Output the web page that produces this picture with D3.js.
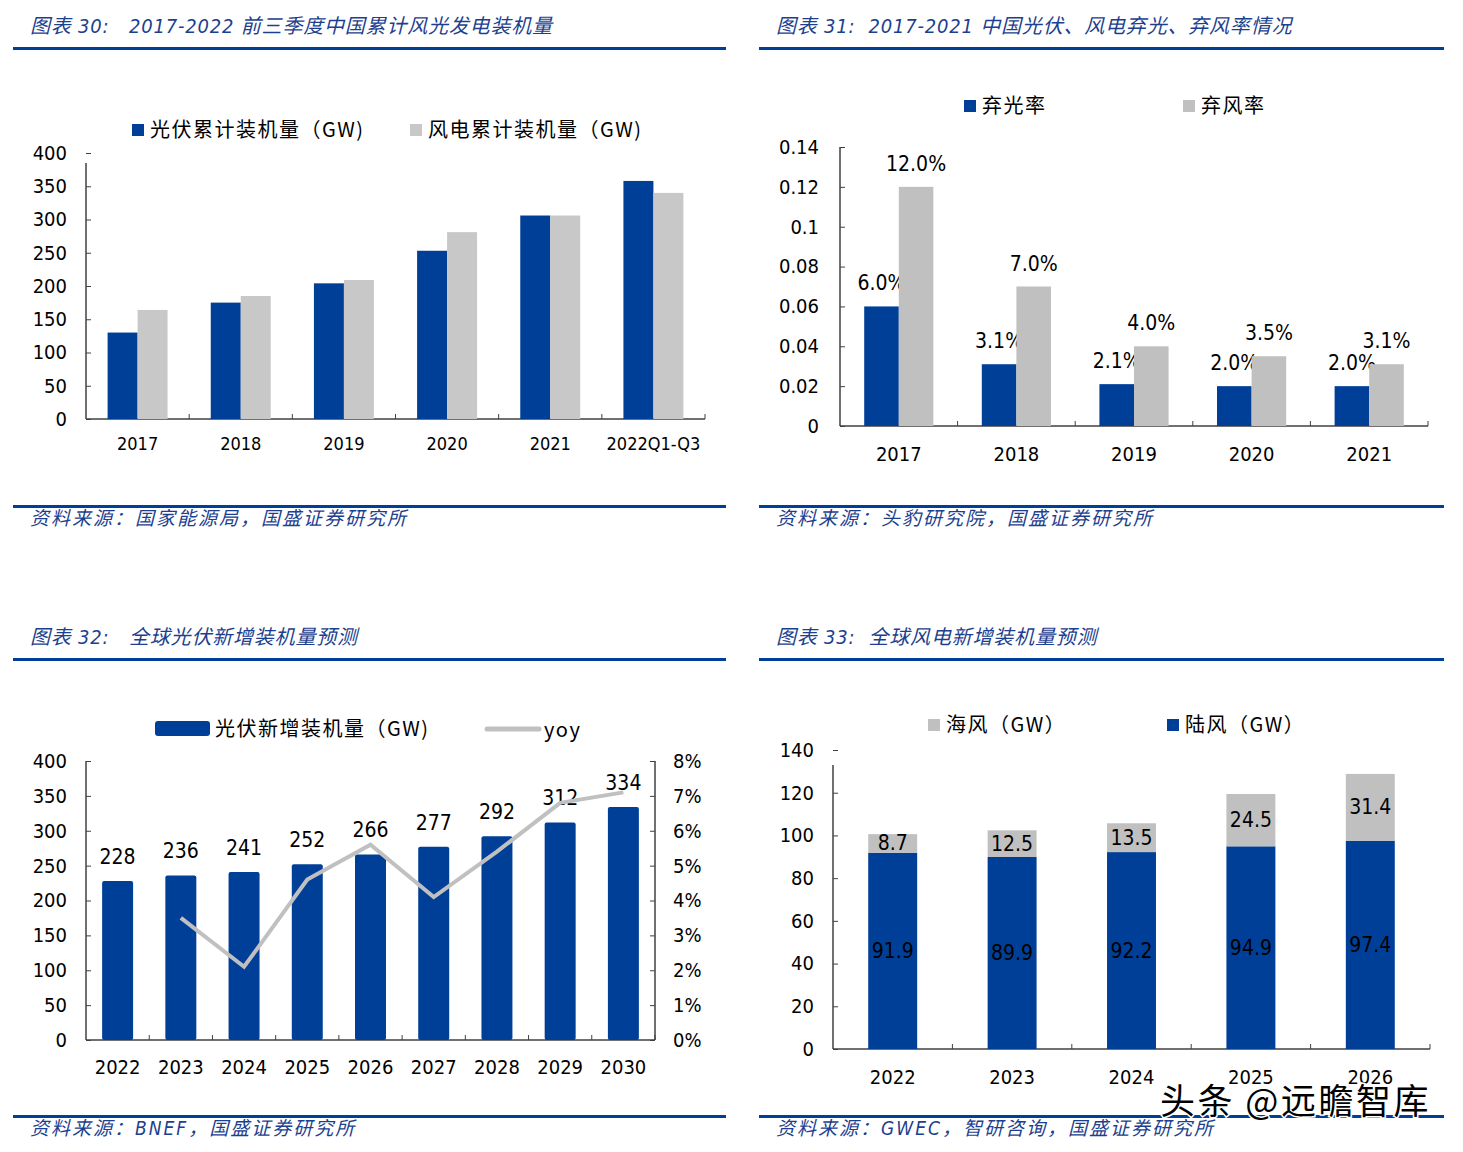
<!DOCTYPE html>
<html>
<head>
<meta charset="utf-8">
<script src="https://cdn.jsdelivr.net/npm/d3@7/dist/d3.min.js"></script>
<style>
  body { margin: 0; background: #fff; }
  svg text { font-family: "DejaVu Sans Condensed", "Noto Sans CJK SC", sans-serif; fill: #000; }
  .title, .source { font-style: italic; fill: #1d3f8f; white-space: pre; }
  .title { font-size: 20px; letter-spacing: 0.8px; }
  .source { font-size: 19px; letter-spacing: 2px; }
  .legend { font-family: "Noto Sans CJK SC", sans-serif; font-size: 20px; letter-spacing: 1.5px; }
</style>
</head>
<body>
<svg id="chart" width="1463" height="1152"></svg>
<script>
// ---- data ----
const capYears = ['2017', '2018', '2019', '2020', '2021', '2022Q1-Q3'];
const pvCum = [130, 175, 204, 253, 306, 358];
const windCum = [164, 185, 209, 281, 306, 340];

const curtYears = ['2017', '2018', '2019', '2020', '2021'];
const pvCurt = [0.060, 0.031, 0.021, 0.020, 0.020];
const windCurt = [0.120, 0.070, 0.040, 0.035, 0.031];

const pvYears = ['2022', '2023', '2024', '2025', '2026', '2027', '2028', '2029', '2030'];
const pvNew = [228, 236, 241, 252, 266, 277, 292, 312, 334];
const pvYoy = [null, 0.035, 0.021, 0.046, 0.056, 0.041, 0.054, 0.068, 0.071];

const windYears = ['2022', '2023', '2024', '2025', '2026'];
const onshore = [91.9, 89.9, 92.2, 94.9, 97.4];
const offshore = [8.7, 12.5, 13.5, 24.5, 31.4];

const BLUE = '#003f98';
const GRAY = '#c0c0c0';
const AXIS = '#404040';

const svg = d3.select('#chart');

// header + footer of one report panel
function panel(x0, x1, top, bottom, title, source) {
  svg.append('text').attr('class', 'title').attr('x', x0 + 17).attr('y', top + 14).text(title);
  svg.append('rect').attr('x', x0).attr('y', top + 28).attr('width', x1 - x0).attr('height', 3).attr('fill', BLUE);
  svg.append('rect').attr('x', x0).attr('y', bottom).attr('width', x1 - x0).attr('height', 3).attr('fill', BLUE);
  svg.append('text').attr('class', 'source').attr('x', x0 + 17).attr('y', bottom + 20).text(source);
}

function legendBox(x, y, color, label) {
  svg.append('rect').attr('x', x).attr('y', y - 6).attr('width', 12).attr('height', 12).attr('fill', color);
  svg.append('text').attr('class', 'legend').attr('x', x + 18).attr('y', y + 7).text(label);
}

function leftAxis(scale, x, values, fmt, pad, fs) {
  const g = svg.append('g').attr('transform', `translate(${x},0)`)
    .call(d3.axisLeft(scale).tickValues(values).tickFormat(fmt).tickSize(-5).tickSizeOuter(0).tickPadding(pad));
  g.select('.domain').remove();
  g.selectAll('line').attr('stroke', AXIS);
  g.selectAll('text').style('font-size', fs + 'px');
  return g;
}

function bottomAxis(xs, y, pad, fs) {
  const g = svg.append('g').attr('transform', `translate(0,${y})`)
    .call(d3.axisBottom(xs).tickSize(0).tickPadding(pad));
  g.select('.domain').remove();
  g.selectAll('text').style('font-size', fs + 'px');
  // separators between categories
  const r = xs.range();
  g.selectAll('line.sep').data(d3.range(1, xs.domain().length + 1)).join('line')
    .attr('class', 'sep')
    .attr('x1', i => r[0] + i * xs.step()).attr('x2', i => r[0] + i * xs.step())
    .attr('y1', 0).attr('y2', -5).attr('stroke', AXIS);
  g.append('line').attr('x1', r[0]).attr('x2', r[1]).attr('stroke', AXIS).attr('stroke-width', 1.5);
  return g;
}

function vline(x, y1, y2) {
  svg.append('line').attr('x1', x).attr('x2', x).attr('y1', y1).attr('y2', y2)
    .attr('stroke', AXIS).attr('stroke-width', 1.5);
}

// ---------- 图表 30 ----------
panel(13, 726, 19, 505, '图表 30:   2017-2022 前三季度中国累计风光发电装机量', '资料来源：国家能源局，国盛证券研究所');
{
  const x = d3.scaleBand(capYears, [86, 705]);
  const sub = d3.scaleBand(['pv', 'wind'], [0, x.bandwidth()]).paddingOuter(0.72);
  const y = d3.scaleLinear([0, 400], [419, 153]);
  leftAxis(y, 86, d3.range(0, 401, 50), d3.format('d'), 19, 20);
  vline(86, y(0), y(385));
  bottomAxis(x, 419, 18, 18);
  const rows = capYears.map((c, i) => ({ c, pv: pvCum[i], wind: windCum[i] }));
  svg.append('g').selectAll('rect.pv').data(rows).join('rect')
    .attr('x', d => x(d.c) + sub('pv')).attr('width', sub.bandwidth())
    .attr('y', d => y(d.pv)).attr('height', d => y(0) - y(d.pv)).attr('fill', BLUE);
  svg.append('g').selectAll('rect.w').data(rows).join('rect')
    .attr('x', d => x(d.c) + sub('wind')).attr('width', sub.bandwidth())
    .attr('y', d => y(d.wind)).attr('height', d => y(0) - y(d.wind)).attr('fill', '#c8c8c8');
  legendBox(132, 130, BLUE, '光伏累计装机量（GW)');
  legendBox(410, 130, '#c8c8c8', '风电累计装机量（GW)');
}

// ---------- 图表 31 ----------
panel(759, 1444, 19, 505, '图表 31:  2017-2021 中国光伏、风电弃光、弃风率情况', '资料来源：头豹研究院，国盛证券研究所');
{
  const x = d3.scaleBand(curtYears, [840, 1428]);
  const sub = d3.scaleBand(['pv', 'wind'], [0, x.bandwidth()]).paddingOuter(0.7);
  const y = d3.scaleLinear([0, 0.14], [426, 147]);
  leftAxis(y, 840, d3.range(0, 8).map(i => i * 0.02), d => d === 0 ? '0' : String(+d.toFixed(2)), 21, 20);
  vline(840, y(0), y(0.14));
  bottomAxis(x, 426, 21, 20);
  const pct = d3.format('.1%');
  const rows = curtYears.map((c, i) => ({ c, pv: pvCurt[i], wind: windCurt[i] }));
  [['pv', BLUE], ['wind', GRAY]].forEach(([k, col]) => {
    const g = svg.append('g');
    g.selectAll('rect').data(rows).join('rect')
      .attr('x', d => x(d.c) + sub(k)).attr('width', sub.bandwidth())
      .attr('y', d => y(d[k])).attr('height', d => y(0) - y(d[k])).attr('fill', col);
    g.selectAll('text').data(rows).join('text')
      .attr('x', d => x(d.c) + sub(k) + sub.bandwidth() / 2).attr('y', d => y(d[k]) - 16)
      .attr('text-anchor', 'middle').style('font-size', '21px').text(d => pct(d[k]));
  });
  legendBox(964, 106, BLUE, '弃光率');
  legendBox(1183, 106, GRAY, '弃风率');
}

// ---------- 图表 32 ----------
panel(13, 726, 630, 1115, '图表 32:   全球光伏新增装机量预测', '资料来源：BNEF，国盛证券研究所');
{
  const x = d3.scaleBand(pvYears, [86, 655]).paddingInner(0.51).paddingOuter(0.255);
  const y = d3.scaleLinear([0, 400], [1040, 761]);
  const y2 = d3.scaleLinear([0, 0.08], [1040, 761]);
  leftAxis(y, 86, d3.range(0, 401, 50), d3.format('d'), 19, 20);
  vline(86, y(0), y(400));
  const r = svg.append('g').attr('transform', 'translate(655,0)')
    .call(d3.axisRight(y2).tickValues(d3.range(0, 9).map(i => i * 0.01)).tickFormat(d3.format('.0%'))
      .tickSize(-5).tickSizeOuter(0).tickPadding(18));
  r.select('.domain').remove();
  r.selectAll('line').attr('stroke', AXIS);
  r.selectAll('text').style('font-size', '20px');
  vline(655, y(0), y(400));
  bottomAxis(d3.scaleBand(pvYears, [86, 655]), 1040, 20, 20);
  const rows = pvYears.map((c, i) => ({ c, v: pvNew[i], yoy: pvYoy[i] }));
  svg.append('g').selectAll('rect').data(rows).join('rect')
    .attr('x', d => x(d.c)).attr('width', x.bandwidth()).attr('rx', 2)
    .attr('y', d => y(d.v)).attr('height', d => y(0) - y(d.v)).attr('fill', BLUE);
  svg.append('g').selectAll('text').data(rows).join('text')
    .attr('x', d => x(d.c) + x.bandwidth() / 2).attr('y', d => y(d.v) - 17)
    .attr('text-anchor', 'middle').style('font-size', '21px').text(d => d.v);
  const line = d3.line().defined(d => d.yoy != null)
    .x(d => x(d.c) + x.bandwidth() / 2).y(d => y2(d.yoy));
  svg.append('path').datum(rows).attr('d', line).attr('fill', 'none')
    .attr('stroke', GRAY).attr('stroke-width', 4);
  // legend
  svg.append('rect').attr('x', 155).attr('y', 721).attr('width', 55).attr('height', 15).attr('rx', 3).attr('fill', BLUE);
  svg.append('text').attr('class', 'legend').attr('x', 215).attr('y', 736).text('光伏新增装机量（GW)');
  svg.append('line').attr('x1', 487).attr('x2', 539).attr('y1', 729).attr('y2', 729)
    .attr('stroke', GRAY).attr('stroke-width', 5).attr('stroke-linecap', 'round');
  svg.append('text').attr('class', 'legend').attr('x', 544).attr('y', 737).text('yoy');
}

// ---------- 图表 33 ----------
panel(759, 1444, 630, 1115, '图表 33:  全球风电新增装机量预测', '资料来源：GWEC，智研咨询，国盛证券研究所');
{
  const xs = d3.scaleBand(windYears, [833, 1430]);
  const x = xs.copy().paddingInner(0.59).paddingOuter(0.295);
  const y = d3.scaleLinear([0, 140], [1049, 750]);
  leftAxis(y, 833, d3.range(0, 141, 20), d3.format('d'), 19, 20);
  vline(833, y(0), y(133));
  bottomAxis(xs, 1049, 21, 20);
  const rows = windYears.map((c, i) => ({ c, on: onshore[i], off: offshore[i] }));
  const g = svg.append('g');
  g.selectAll('rect.on').data(rows).join('rect').attr('class', 'on')
    .attr('x', d => x(d.c)).attr('width', x.bandwidth())
    .attr('y', d => y(d.on)).attr('height', d => y(0) - y(d.on)).attr('fill', BLUE);
  g.selectAll('rect.off').data(rows).join('rect').attr('class', 'off')
    .attr('x', d => x(d.c)).attr('width', x.bandwidth())
    .attr('y', d => y(d.on + d.off)).attr('height', d => y(d.on) - y(d.on + d.off)).attr('fill', GRAY);
  g.selectAll('text.on').data(rows).join('text').attr('class', 'on')
    .attr('x', d => x(d.c) + x.bandwidth() / 2).attr('y', d => y(d.on / 2) + 7)
    .attr('text-anchor', 'middle').style('font-size', '21px').text(d => d.on.toFixed(1));
  g.selectAll('text.off').data(rows).join('text').attr('class', 'off')
    .attr('x', d => x(d.c) + x.bandwidth() / 2).attr('y', d => y(d.on + d.off / 2) + 7)
    .attr('text-anchor', 'middle').style('font-size', '21px').text(d => d.off.toFixed(1));
  legendBox(928, 725, GRAY, '海风（GW）');
  legendBox(1167, 725, BLUE, '陆风（GW）');
}

// watermark
svg.append('text').attr('x', 1160).attr('y', 1114)
  .style('font-family', '"Noto Sans CJK SC", sans-serif').style('font-size', '35px')
  .style('letter-spacing', '2.5px')
  .attr('fill', '#111').attr('stroke', '#fff').attr('stroke-width', 3)
  .attr('paint-order', 'stroke').text('头条 @远瞻智库');
</script>
</body>
</html>
